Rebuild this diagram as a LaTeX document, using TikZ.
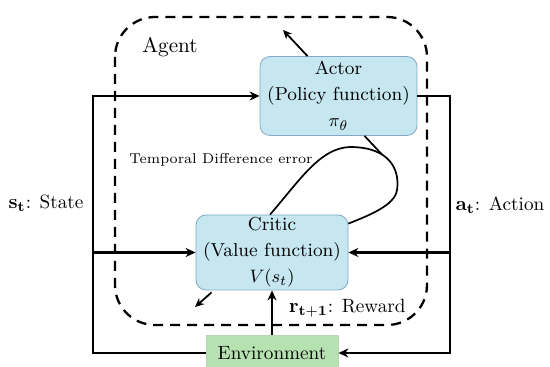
\documentclass[tikz,border=0pt]{standalone}
\usetikzlibrary{arrows.meta}

\definecolor{boxblue}{RGB}{198,230,240}
\definecolor{boxedge}{RGB}{130,170,200}
\definecolor{envgreen}{RGB}{182,226,178}

\tikzset{
    block/.style={draw=boxedge, fill=boxblue, line width=0.4pt, rounded corners=5pt,
        align=center, inner sep=0pt, font=\fontsize{9.4}{13}\selectfont},
    flow/.style={line width=1.2pt, -{Stealth[length=5pt, width=4.5pt]}},
    thinflow/.style={line width=0.9pt, -{Stealth[length=4.5pt, width=4pt]}},
    agentbox/.style={line width=1.15pt, dash pattern=on 5pt off 3.5pt, rounded corners=20pt},
}

\begin{document}
\begin{tikzpicture}[x=0.5pt, y=-0.5pt]
    \useasboundingbox (0,0) rectangle (550,367);

    % agent boundary
    \draw[agentbox] (115,17) rectangle (427,325);
    \node[font=\fontsize{10.6}{12}\selectfont] (agentlbl) at (170,47) {Agent};

    % actor, critic and environment
    \node[block, minimum width=78.5pt, minimum height=39.5pt] (actor) at (338.5,96)
        {Actor\\(Policy function)\\$\pi_\theta$};
    \node[block, minimum width=76pt, minimum height=37.5pt] (critic) at (272,252.5)
        {Critic\\(Value function)\\$V(s_t)$};
    \node[draw=envgreen!80!black!60, fill=envgreen, line width=0.4pt, inner sep=0pt,
        minimum width=66pt, minimum height=18pt, font=\fontsize{9.6}{11}\selectfont]
        (env) at (272,353) {Environment};

    \coordinate (lt) at (93,96);
    \coordinate (lm) at (93,252.5);
    \coordinate (lb) at (93,353);
    \coordinate (rt) at (450,96);
    \coordinate (rm) at (450,252.5);
    \coordinate (rb) at (450,353);

    % state loop on the left
    \draw[flow] (env.west) -- (lb) -- (lt) -- (actor.west);
    \draw[flow] (lm) -- (critic.west);

    % action loop on the right
    \draw[flow, rounded corners=0pt] (actor.east) -- (rt) -- (rb) -- (env.east);
    \draw[flow] (rm) -- (critic.east);

    % reward
    \draw[flow] (env.north) -- (critic.south);

    % short updates out of the boxes
    \coordinate (aout) at (283,30);
    \coordinate (cout) at (195,307);
    \draw[thinflow] ([xshift=-15.5pt]actor.north) -- (aout);
    \draw[thinflow] ([xshift=8pt, yshift=-1pt]critic.south west) -- (cout);

    % temporal difference loop
    \coordinate (tdjoin) at (382,154.5);
    \draw[line width=0.85pt] ([xshift=-1pt]critic.north) .. controls (300,180) and (320,148) .. (350,147)
        .. controls (390,147) and (400,170) .. (397,190)
        .. controls (395,205) and (370,215) .. ([yshift=-4.5pt]critic.north east);
    \draw[line width=0.85pt] ([xshift=13pt]actor.south) -- (tdjoin);
    \node[font=\fontsize{7.1}{8}\selectfont] (tdlbl) at (221,160) {Temporal Difference error};

    % signal labels
    \node[font=\fontsize{9.6}{11}\selectfont] (state) at (46,203) {$\mathbf{s}_\mathbf{t}$: State};
    \node[font=\fontsize{9.6}{11}\selectfont] (action) at (500,205) {$\mathbf{a}_\mathbf{t}$: Action};
    \node[font=\fontsize{9.6}{11}\selectfont, anchor=west] (reward) at (282,308) {$\mathbf{r}_\mathbf{t+1}$: Reward};
\end{tikzpicture}
\end{document}
